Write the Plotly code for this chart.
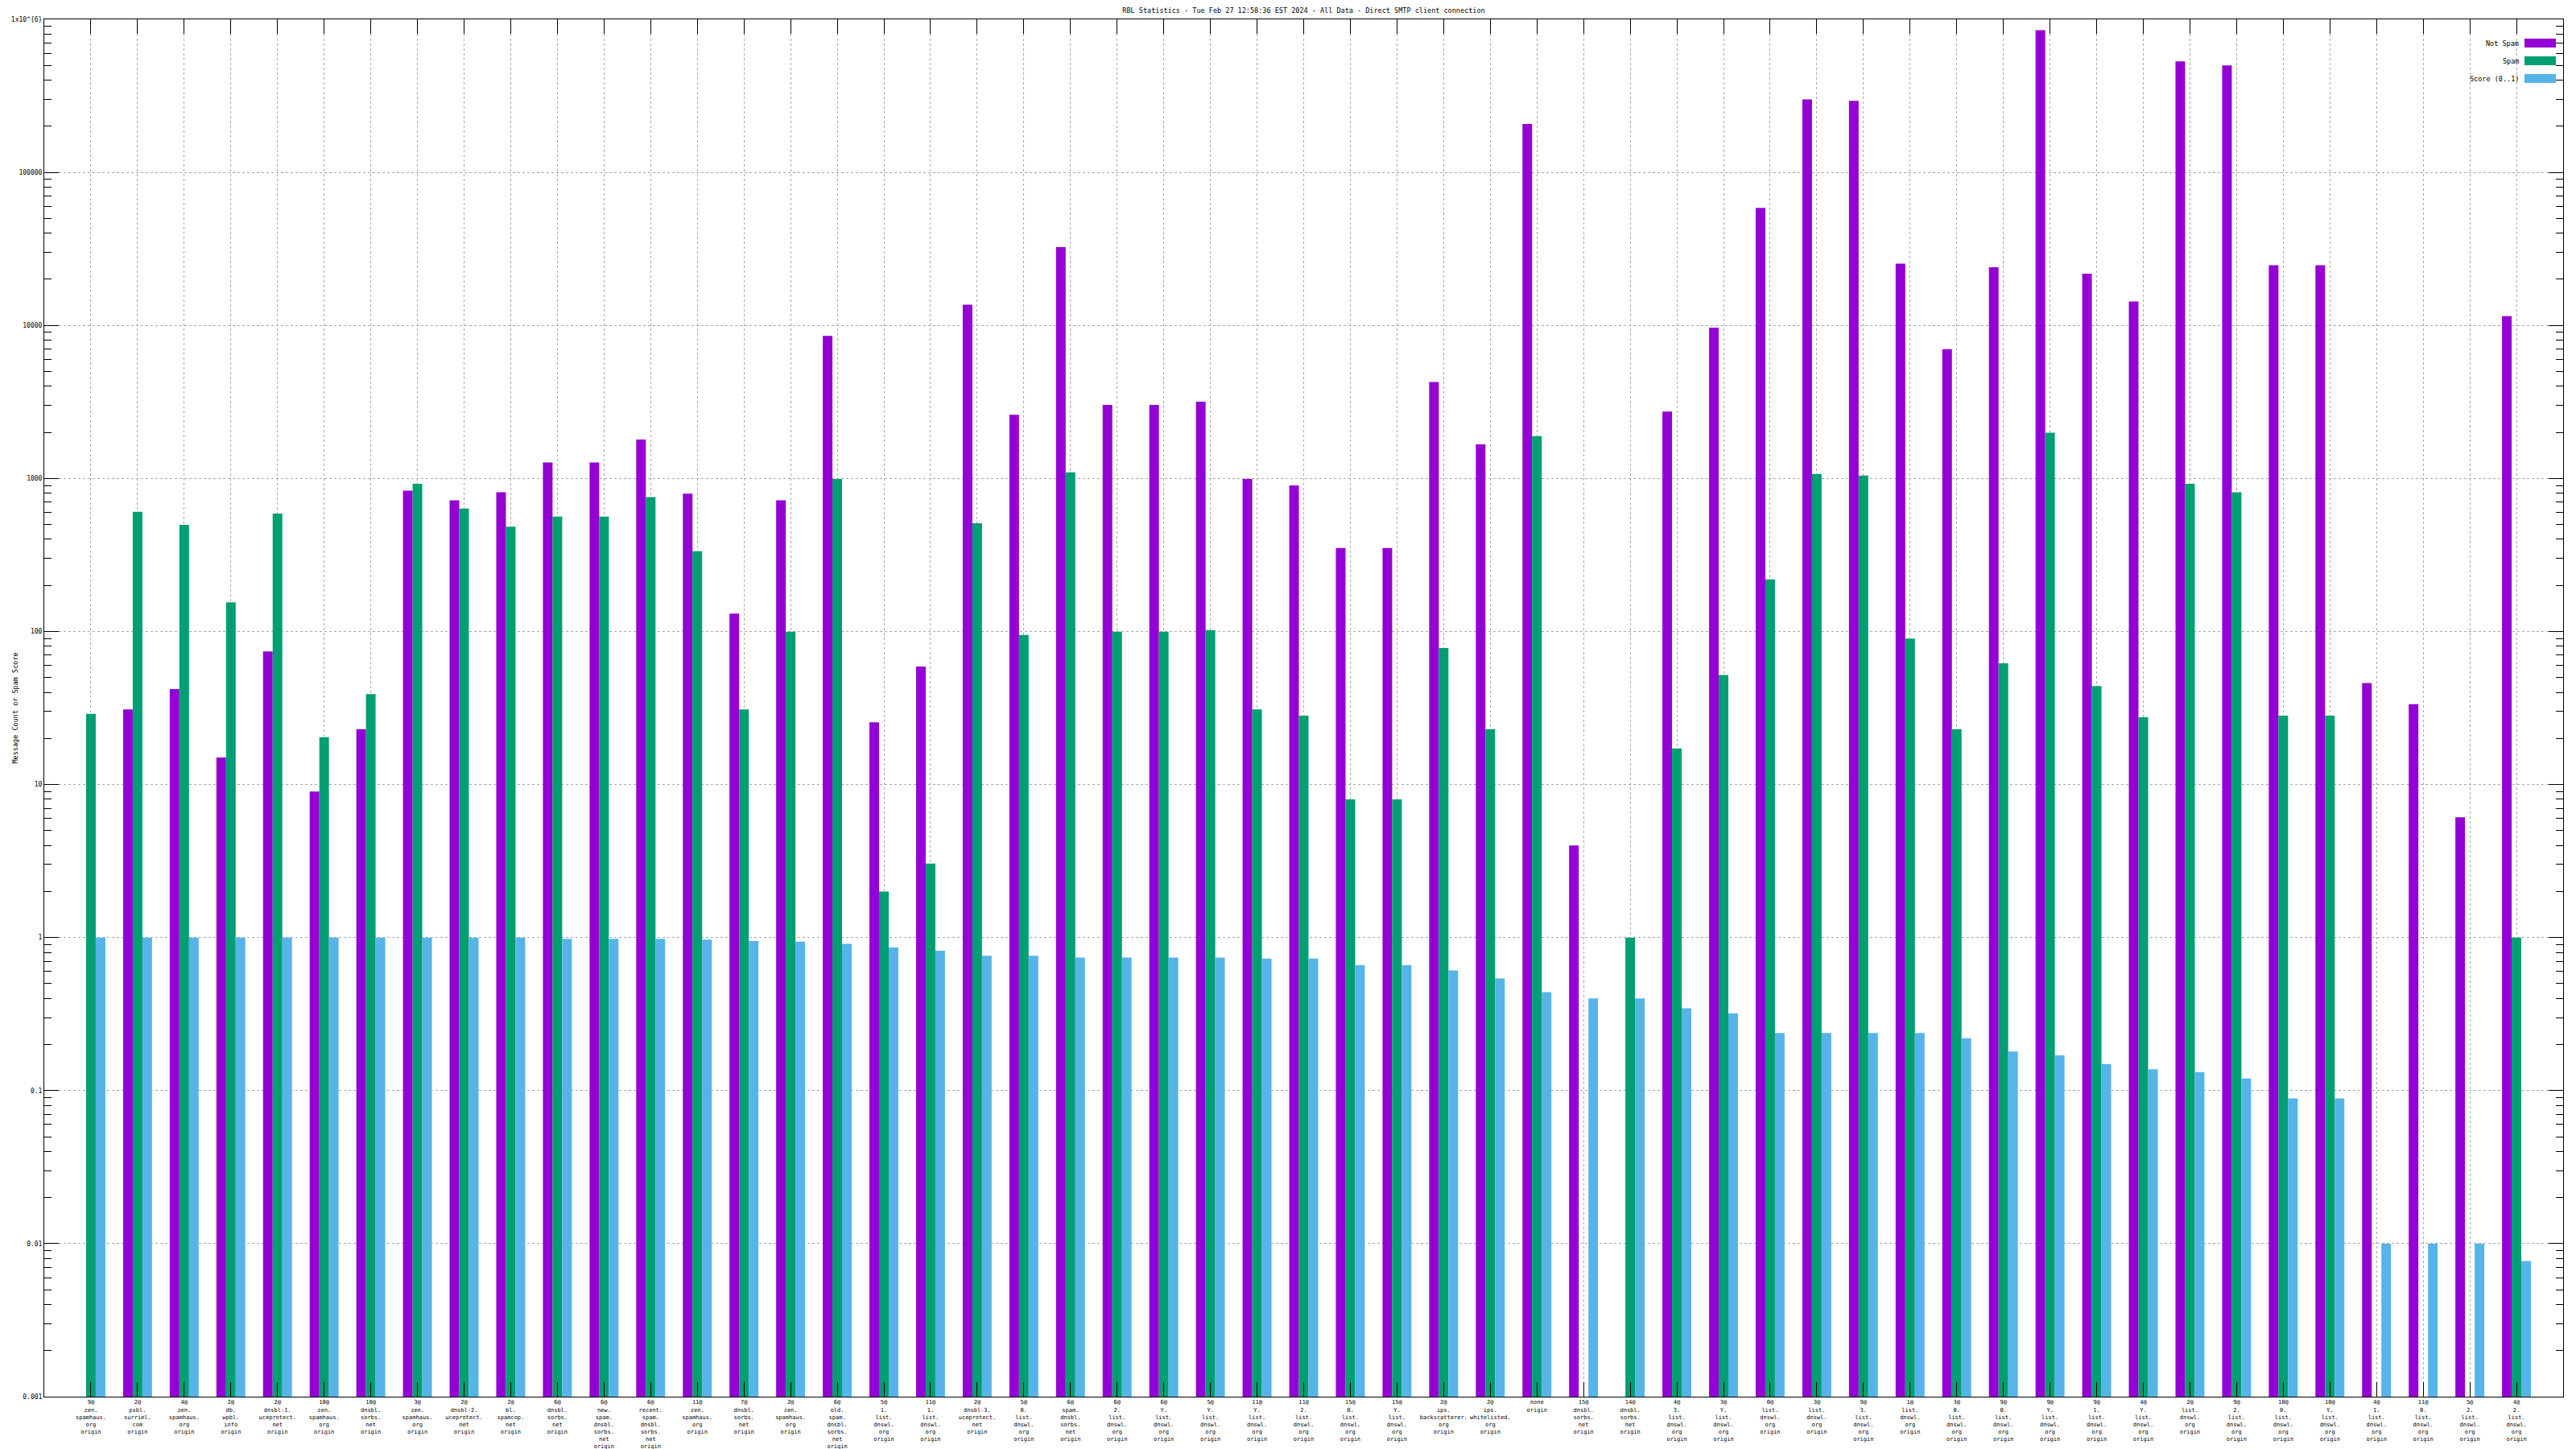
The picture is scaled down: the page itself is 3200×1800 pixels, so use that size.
import plotly.graph_objects as go

# ---- data ----
counts = ["9@", "2@", "4@", "2@", "2@", "10@", "10@", "3@", "2@", "2@",
          "6@", "6@", "6@", "11@", "7@", "2@", "6@", "5@", "11@", "2@",
          "5@", "6@", "6@", "6@", "5@", "11@", "11@", "15@", "15@", "2@",
          "2@", "", "15@", "14@", "4@", "3@", "0@", "3@", "9@", "1@",
          "3@", "9@", "9@", "9@", "4@", "2@", "9@", "10@", "10@", "4@",
          "11@", "5@", "4@"]
rbls = ["zen.spamhaus.org", "psbl.surriel.com", "zen.spamhaus.org", "db.wpbl.info",
        "dnsbl-1.uceprotect.net", "zen.spamhaus.org", "dnsbl.sorbs.net", "zen.spamhaus.org",
        "dnsbl-2.uceprotect.net", "bl.spamcop.net", "dnsbl.sorbs.net", "new.spam.dnsbl.sorbs.net",
        "recent.spam.dnsbl.sorbs.net", "zen.spamhaus.org", "dnsbl.sorbs.net", "zen.spamhaus.org",
        "old.spam.dnsbl.sorbs.net", "1.list.dnswl.org", "1.list.dnswl.org", "dnsbl-3.uceprotect.net",
        "0.list.dnswl.org", "spam.dnsbl.sorbs.net", "2.list.dnswl.org", "Y.list.dnswl.org",
        "Y.list.dnswl.org", "Y.list.dnswl.org", "2.list.dnswl.org", "0.list.dnswl.org",
        "Y.list.dnswl.org", "ips.backscatterer.org", "ips.whitelisted.org", "none",
        "dnsbl.sorbs.net", "dnsbl.sorbs.net", "3.list.dnswl.org", "Y.list.dnswl.org",
        "list.dnswl.org", "list.dnswl.org", "3.list.dnswl.org", "list.dnswl.org",
        "0.list.dnswl.org", "0.list.dnswl.org", "Y.list.dnswl.org", "1.list.dnswl.org",
        "Y.list.dnswl.org", "list.dnswl.org", "2.list.dnswl.org", "0.list.dnswl.org",
        "Y.list.dnswl.org", "1.list.dnswl.org", "0.list.dnswl.org", "2.list.dnswl.org",
        "2.list.dnswl.org"]

not_spam = [None, 31, 42, 15, 74, 9, 23, 833, 720, 813,
            1271, 1271, 1798, 795, 131, 720, 8530, 25.5, 59, 13650,
            2605, 32500, 3020, 3020, 3170, 993, 900, 351, 351, 4270,
            1670, 207000, 4, None, 2735, 9660, 58600, 300000, 293000, 25300,
            7000, 24000, 850000, 21800, 14350, 531000, 500000, 24700, 24700, 46,
            33.5, 6.1, 11500]
spam = [29, 605, 497, 155, 590, 20.4, 39, 922, 635, 484,
        563, 563, 755, 334, 31, 99.6, 993, 2.0, 3.04, 509,
        95, 1096, 99.6, 99.6, 102, 31, 28.2, 8.0, 8.0, 78,
        23, 1888, None, 1, 17.2, 52, 219, 1070, 1043, 90,
        23, 62, 1990, 44, 27.5, 922, 813, 28.2, 28.2, None,
        None, None, 1]
score = [1.0, 1.0, 1.0, 1.0, 1.0, 1.0, 1.0, 1.0, 1.0, 1.0,
         0.98, 0.98, 0.98, 0.97, 0.95, 0.94, 0.91, 0.86, 0.82, 0.76,
         0.76, 0.74, 0.74, 0.74, 0.74, 0.73, 0.73, 0.66, 0.66, 0.61,
         0.54, 0.44, 0.40, 0.40, 0.345, 0.32, 0.238, 0.238, 0.238, 0.238,
         0.22, 0.18, 0.17, 0.149, 0.138, 0.132, 0.12, 0.089, 0.089, 0.01,
         0.01, 0.01, 0.0077]

series_names = ["Not Spam", "Spam", "Score (0..1)"]
series_colors = ["#9400D3", "#009E73", "#56B4E9"]

y_tickvals = [0.001, 0.01, 0.1, 1, 10, 100, 1000, 10000, 100000, 1000000]
y_ticktext = ["0.001", "0.01", "0.1", "1", "10", "100", "1000", "10000", "100000", "1x10^{6}"]

title_text = "RBL Statistics - Tue Feb 27 12:58:36 EST 2024 - All Data - Direct SMTP client connection"
y_title = "Message Count or Spam Score"

# ---- labels ----
def make_label(c, r):
    if r == "none":
        return "none<br>origin"
    parts = r.split(".")
    lines = [p + "." for p in parts[:-1]] + [parts[-1]]
    return "<br>".join([c] + lines + ["origin"])

labels = [make_label(c, r) for c, r in zip(counts, rbls)]
xs = list(range(len(labels)))

FONT = "DejaVu Sans Mono"
# the page body has an 8px default margin; size the figure so it fits the window
W, H = 3192, 1792

fig = go.Figure()
for name, vals, col in zip(series_names, [not_spam, spam, score], series_colors):
    fig.add_trace(go.Bar(x=xs, y=vals, name=name, marker=dict(color=col, line=dict(width=0)),
                         showlegend=False))

fig.update_layout(
    width=W, height=H,
    margin=dict(l=47, r=16, t=16, b=65),
    paper_bgcolor="white", plot_bgcolor="white",
    barmode="group", bargap=0.38, bargroupgap=0,
    font=dict(family=FONT, size=8, color="black"),
    title=dict(text=title_text, x=0.5, xref="paper", xanchor="center",
               y=1 - 2 / H, yref="container", yanchor="top",
               font=dict(family=FONT, size=8.5, color="black")),
)

fig.update_xaxes(
    tickmode="array", tickvals=xs, ticktext=labels,
    range=[-1, len(labels)], automargin=False,
    showline=True, linecolor="black", linewidth=1, mirror="ticks",
    ticks="inside", ticklen=18, tickcolor="black", tickwidth=1,
    showgrid=True, gridcolor="#a8a8a8", griddash="3px,3px", gridwidth=1,
    tickfont=dict(family=FONT, size=7, color="black"),
    tickangle=0, zeroline=False,
)

fig.update_yaxes(
    type="log", range=[-3, 6], automargin=False,
    tickmode="array", tickvals=y_tickvals, ticktext=y_ticktext,
    showline=True, linecolor="black", linewidth=1, mirror="ticks",
    ticks="inside", ticklen=18, tickcolor="black", tickwidth=1,
    showgrid=True, gridcolor="#a8a8a8", griddash="3px,3px", gridwidth=1,
    minor=dict(ticks="inside", ticklen=9, dtick="D1", tickcolor="black", showgrid=False),
    tickfont=dict(family=FONT, size=8, color="black"),
    zeroline=False,
)

# y-axis title
fig.add_annotation(text=y_title, xref="paper", yref="paper", x=0, y=0.5,
                   xshift=-37, textangle=-90, showarrow=False,
                   xanchor="center", yanchor="middle",
                   font=dict(family=FONT, size=8.5, color="black"))

# gnuplot-style key (text left of colour swatch), top right inside plot
for i, (name, col) in enumerate(zip(series_names, series_colors)):
    off = 29.5 + 22 * i
    fig.add_annotation(text=name, xref="paper", yref="paper", x=1, y=1,
                       xshift=-53, yshift=-off, showarrow=False,
                       xanchor="right", yanchor="middle",
                       font=dict(family=FONT, size=8.5, color="black"))
    fig.add_shape(type="rect", xref="paper", yref="paper",
                  xsizemode="pixel", ysizemode="pixel", xanchor=1, yanchor=1,
                  x0=-48, x1=-9, y0=-off - 5.5, y1=-off + 5.5,
                  fillcolor=col, line=dict(width=0))

fig.write_html("out.html")
